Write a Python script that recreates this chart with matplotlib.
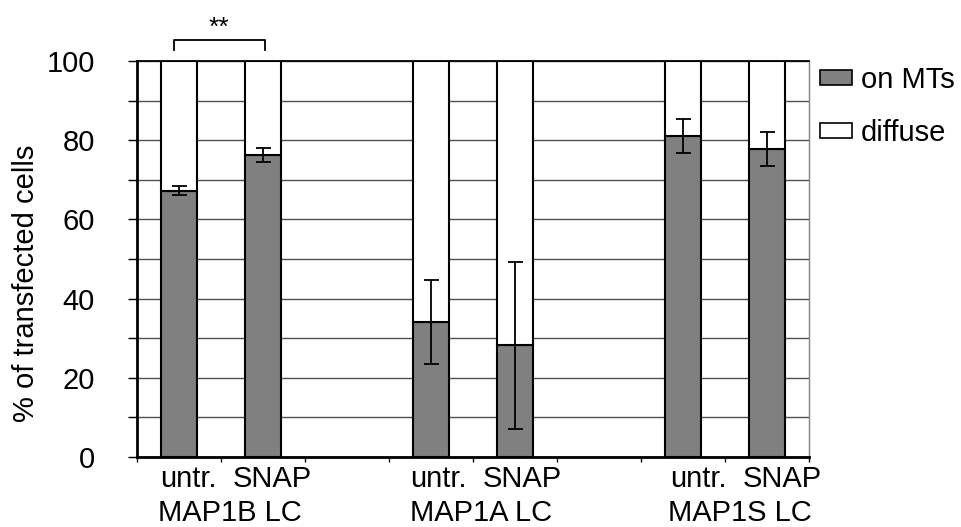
import numpy as np
import matplotlib
matplotlib.use("Agg")
import matplotlib.pyplot as plt
from matplotlib.patches import Patch

plt.rcParams['font.family'] = ['Liberation Sans', 'DejaVu Sans']

# data
groups = ["MAP1B LC", "MAP1A LC", "MAP1S LC"]
conditions = ["untr.", "SNAP"]
on_mts = [67.3, 76.3, 34.2, 28.2, 81.1, 77.9]
on_mts_err = [1.2, 1.8, 10.6, 21.1, 4.2, 4.3]
total = 100
significance = "**"

# layout
slots_per_group = 3
label_shift = [0.11, 0.09, 0.18]   # text sits a bit right of the bars
bar_w = 0.42
gray = "#808080"
fs = 21

pos = np.array([g * slots_per_group + c for g in range(len(groups))
                for c in range(len(conditions))])
on = np.array(on_mts)
diffuse = total - on

fig = plt.figure(figsize=(9.62, 5.27), dpi=100)
ax = fig.add_axes([0.1424, 0.1328, 0.841 - 0.1424, 0.884 - 0.1328])

ax.bar(pos, on, width=bar_w, color=gray, edgecolor="black", linewidth=1.5, zorder=2)
ax.bar(pos, diffuse, bottom=on, width=bar_w, color="white", edgecolor="black",
       linewidth=1.5, zorder=2)
ax.errorbar(pos, on, yerr=on_mts_err, fmt="none", ecolor="black", elinewidth=1.3,
            capsize=5.4, capthick=1.3, zorder=3)

n_slots = len(groups) * slots_per_group - 1
ax.set_xlim(-0.5, n_slots - 0.5)
ax.set_ylim(0, total)

ax.set_yticks(np.arange(0, total + 1, 20))
ax.set_yticks(np.arange(10, total, 20), minor=True)
ax.yaxis.grid(True, which="both", color="#505050", linewidth=1.0)
ax.set_axisbelow(True)
ax.tick_params(axis="y", which="both", direction="out", length=6.5, width=1,
               labelsize=fs, pad=24)
ax.set_xticks(np.arange(-0.5, n_slots, 1.0))
ax.set_xticklabels([])
ax.tick_params(axis="x", direction="out", length=3.6, width=1)

for s in ["left", "bottom"]:
    ax.spines[s].set_linewidth(2)
ax.spines["top"].set_linewidth(1.3)
ax.spines["right"].set_color("#808080")
ax.spines["right"].set_linewidth(1)

ax.set_ylabel("% of transfected cells", fontsize=fs)
ax.yaxis.set_label_coords(-0.144, 0.44)

# category labels under the axis
for i, p in enumerate(pos):
    g = i // len(conditions)
    ax.annotate(conditions[i % len(conditions)], xy=(p + label_shift[g], 0),
                xycoords=("data", "axes fraction"), xytext=(0, -6),
                textcoords="offset points", ha="center", va="top", fontsize=fs)
for g, name in enumerate(groups):
    cx = pos[g * len(conditions):(g + 1) * len(conditions)].mean() + label_shift[g]
    ax.annotate(name, xy=(cx, 0), xycoords=("data", "axes fraction"),
                xytext=(0, -30), textcoords="offset points",
                ha="center", va="top", fontsize=fs)

# significance bracket between the MAP1B bars
x0, x1 = pos[0] - 0.06, pos[1] + 0.02
ax.plot([x0, x0, x1, x1], [102.8, 105.3, 105.3, 102.8], color="black",
        linewidth=1.3, clip_on=False)
ax.text((x0 + x1) / 2, 106.6, significance, ha="center", va="baseline",
        fontsize=19, clip_on=False)

handles = [Patch(facecolor=gray, edgecolor="black", linewidth=1.2, label="on MTs"),
           Patch(facecolor="white", edgecolor="black", linewidth=1.2, label="diffuse")]
fig.legend(handles=handles, loc="upper left", bbox_to_anchor=(820 / 962, 1 - 66 / 527),
           frameon=False, fontsize=fs, handlelength=1.1, handleheight=0.45,
           handletextpad=0.3, labelspacing=0.85, borderpad=0, borderaxespad=0)

fig.savefig("out.png", dpi=100)
